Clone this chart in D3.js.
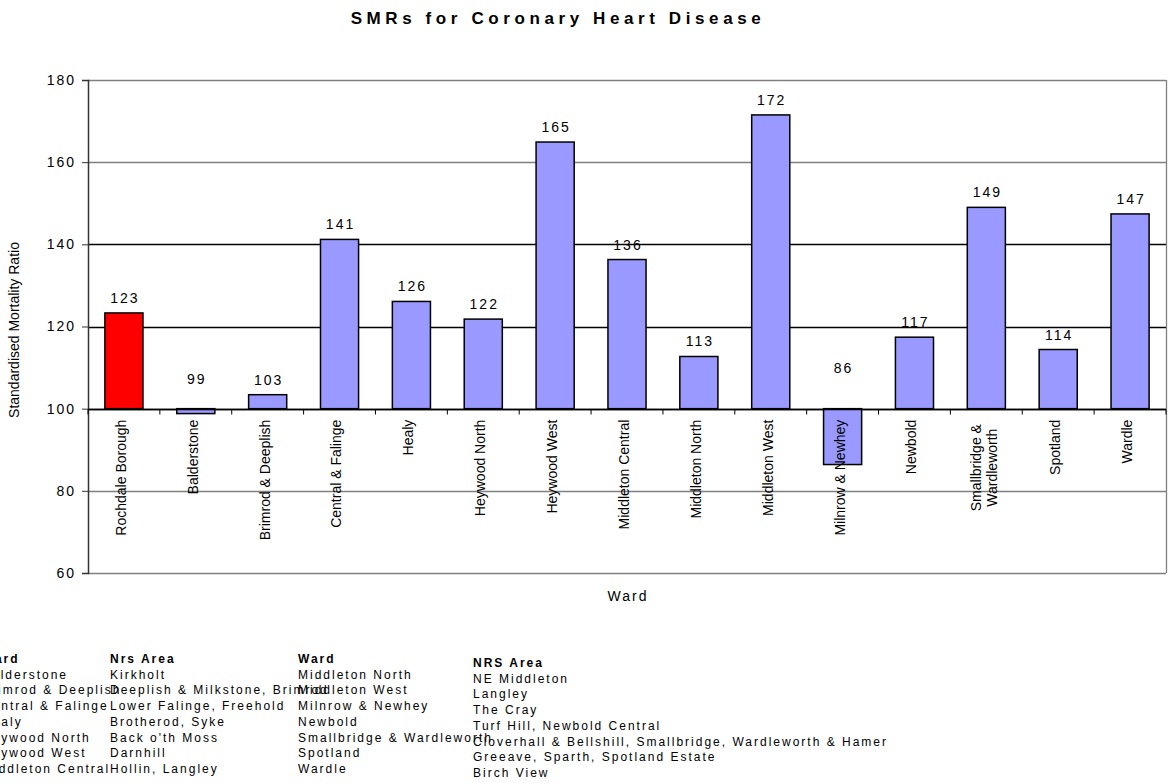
<!DOCTYPE html>
<html><head><meta charset="utf-8">
<script src="https://cdn.jsdelivr.net/npm/d3@7"></script>
<style>body{margin:0;background:#fff}svg{display:block}text{font-family:"Liberation Sans",Arial,sans-serif}</style>
</head><body>
<svg id="c" width="1170" height="783"></svg>
<script>
const categories = ["Rochdale Borough","Balderstone","Brimrod & Deeplish","Central & Falinge","Healy","Heywood North","Heywood West","Middleton Central","Middleton North","Middleton West","Milnrow & Newhey","Newbold","Smallbridge & Wardleworth","Spotland","Wardle"];
const smr = [123.3,98.8,103.4,141.2,126.1,121.8,164.9,136.3,112.7,171.5,86.4,117.4,149.0,114.4,147.4];
const yTicks = [60,80,100,120,140,160,180];
const tableWards1 = ["Balderstone","Brimrod & Deeplish","Central & Falinge","Healy","Heywood North","Heywood West","Middleton Central"];
const tableAreas1 = ["Kirkholt","Deeplish & Milkstone, Brimrod","Lower Falinge, Freehold","Brotherod, Syke","Back o'th Moss","Darnhill","Hollin, Langley"];
const tableWards2 = ["Middleton North","Middleton West","Milnrow & Newhey","Newbold","Smallbridge & Wardleworth","Spotland","Wardle"];
const tableAreas2 = ["NE Middleton","Langley","The Cray","Turf Hill, Newbold Central","Cloverhall & Bellshill, Smallbridge, Wardleworth & Hamer","Greeave, Sparth, Spotland Estate","Birch View"];

const svg = d3.select("#c");
const L=88,R=1166,T=80,B=573;
const x = d3.scaleBand().domain(categories).range([L,R]).paddingInner(0.47).paddingOuter(0.235);
const xb = d3.scaleBand().domain(categories).range([L,R]);
const y = d3.scaleLinear().domain([60,180]).range([B,T]);
const y0 = y(100);

// title
svg.append("text").attr("x",558).attr("y",24).attr("text-anchor","middle")
  .attr("font-size",17).attr("font-weight","bold").attr("letter-spacing",4.6).text("SMRs for Coronary Heart Disease");

// gridlines
const gridCol = {60:"#808080",80:"#808080",100:"#000",120:"#000",140:"#000",160:"#808080",180:"#808080"};
svg.append("g").selectAll("line").data(yTicks).join("line")
  .attr("x1",L).attr("x2",R).attr("y1",d=>Math.round(y(d))+0.5).attr("y2",d=>Math.round(y(d))+0.5)
  .attr("stroke",d=>gridCol[d]).attr("stroke-width",1.3);
// right border
svg.append("line").attr("x1",R+0.5).attr("x2",R+0.5).attr("y1",T).attr("y2",B).attr("stroke","#808080").attr("stroke-width",1.3);

// y axis
const ya = svg.append("g").attr("transform",`translate(${L},0)`)
  .call(d3.axisLeft(y).tickValues(yTicks).tickSize(6).tickPadding(6).tickFormat(d3.format("d")));
ya.select(".domain").attr("stroke","#333").attr("stroke-width",1.5);
ya.selectAll(".tick line").attr("stroke","#333");
ya.selectAll("text").attr("font-size",14).attr("letter-spacing",2).attr("fill","#000").attr("font-family","Liberation Sans, Arial");

svg.append("text").attr("transform",`translate(19,330) rotate(-90)`).attr("text-anchor","middle")
  .attr("font-size",14).text("Standardised Mortality Ratio");

// bars
svg.append("g").selectAll("rect").data(categories).join("rect")
  .attr("x",d=>x(d)).attr("width",x.bandwidth())
  .attr("y",(d,i)=>Math.min(y(smr[i]),y0)).attr("height",(d,i)=>Math.abs(y(smr[i])-y0))
  .attr("fill",(d,i)=>i===0?"#FF0000":"#9999FF").attr("stroke","#000").attr("stroke-width",1.5);

// x axis at 100
const xa = svg.append("g").attr("transform",`translate(0,${Math.round(y0)+0.5})`);
xa.append("line").attr("x1",L).attr("x2",R).attr("stroke","#000").attr("stroke-width",1.3);
xa.selectAll("line.t").data(categories.concat(["_end"])).join("line").attr("class","t")
  .attr("x1",(d,i)=>L+xb.step()*i).attr("x2",(d,i)=>L+xb.step()*i).attr("y1",0).attr("y2",5).attr("stroke","#000");

// x tick labels
const lab = svg.append("g").selectAll("text").data(categories).join("text")
  .attr("transform",d=>`translate(${xb(d)+xb.bandwidth()/2-3},${y0+11}) rotate(-90)`)
  .attr("text-anchor","end").attr("font-size",14);
lab.each(function(d){
  const t=d3.select(this);
  if(d==="Smallbridge & Wardleworth"){
    t.append("tspan").attr("x",0).attr("dy","-0.2em").text("Smallbridge &");
    t.append("tspan").attr("x",0).attr("dy","1.15em").text("Wardleworth");
    t.attr("text-anchor","middle").attr("transform",`translate(${xb(d)+xb.bandwidth()/2-3},${y0+11+48}) rotate(-90)`);
  } else {
    t.attr("dy","0.35em").text(d);
  }
});

// value labels
svg.append("g").selectAll("text").data(smr).join("text")
  .attr("x",(d,i)=>x(categories[i])+x.bandwidth()/2+1)
  .attr("y",d=> d>=100 ? y(d)-10 : y0-24-0.2*(y(d)-y0))
  .attr("text-anchor","middle").attr("font-size",14).attr("letter-spacing",2)
  .text(d=>Math.round(d));

// x axis title
svg.append("text").attr("x",(L+R)/2+1).attr("y",601).attr("text-anchor","middle").attr("font-size",14).attr("letter-spacing",2).text("Ward");

// bottom table
function col(xp, y0p, header, rows){
  const g=svg.append("g");
  g.append("text").attr("x",xp).attr("y",y0p).attr("font-size",12).attr("font-weight","bold").attr("letter-spacing",2).text(header);
  g.selectAll("text.r").data(rows).join("text").attr("class","r").attr("x",xp).attr("y",(d,i)=>y0p+15.7*(i+1))
   .attr("font-size",12).attr("letter-spacing",2).text(d=>d);
}
col(-18,663,"Ward",tableWards1);
col(110,663,"Nrs Area",tableAreas1);
col(298,663,"Ward",tableWards2);
col(473,667,"NRS Area",tableAreas2);
</script>
</body></html>
